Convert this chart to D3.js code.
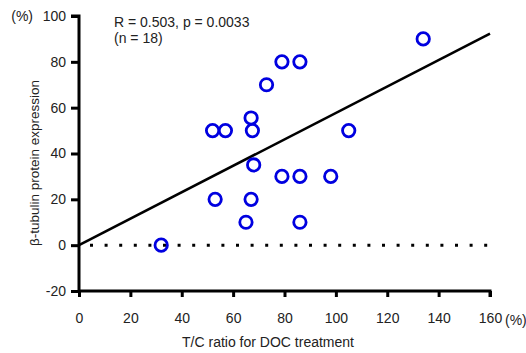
<!DOCTYPE html>
<html>
<head>
<meta charset="utf-8">
<script src="https://cdn.jsdelivr.net/npm/d3@7"></script>
<style>
  body { margin: 0; background: #fff; }
  text { font-family: "Liberation Sans", Arial, sans-serif; fill: #222; }
</style>
</head>
<body>
<div id="chart"></div>
<script>
// T/C ratio (%) and beta-tubulin expression (%) per case
const tcRatio = [32, 53, 67, 65, 86, 68, 79, 86, 98, 52, 57, 67, 67.5, 105, 73, 79, 86, 134];
const tubulin = [0, 20, 20, 10, 10, 35, 30, 30, 30, 50, 50, 55.5, 50, 50, 70, 80, 80, 90];

// regression line end points
const fitX = [0, 160];
const fitY = [0, 92.3];

const xTicks = [0, 20, 40, 60, 80, 100, 120, 140, 160];
const yTicks = [-20, 0, 20, 40, 60, 80, 100];

const width = 526;
const height = 353;

const x = d3.scaleLinear().domain([0, 160]).range([79, 490]);
const y = d3.scaleLinear().domain([-20, 100]).range([291, 16]);

const svg = d3.select("#chart")
  .append("svg")
  .attr("width", width)
  .attr("height", height);

// dotted zero line
svg.append("line")
  .attr("x1", x(0))
  .attr("x2", x(160))
  .attr("y1", y(0))
  .attr("y2", y(0))
  .attr("stroke", "#000")
  .attr("stroke-width", 3)
  .attr("stroke-dasharray", "3 11.6")
  .attr("stroke-dashoffset", -11);

// regression line
svg.append("line")
  .attr("x1", x(fitX[0]))
  .attr("y1", y(fitY[0]))
  .attr("x2", x(fitX[1]))
  .attr("y2", y(fitY[1]))
  .attr("stroke", "#000")
  .attr("stroke-width", 2.6);

// axes
const xAxis = svg.append("g")
  .attr("transform", `translate(0, ${y(-20)})`)
  .call(d3.axisBottom(x).tickValues(xTicks).tickSize(6).tickPadding(16).tickFormat(d => String(d)));

const yAxis = svg.append("g")
  .attr("transform", `translate(${x(0)}, 0)`)
  .call(d3.axisLeft(y).tickValues(yTicks).tickSize(8).tickPadding(5).tickFormat(d => String(d)));

[xAxis, yAxis].forEach(g => {
  g.select(".domain").attr("stroke", "#000").attr("stroke-width", 3);
  g.selectAll(".tick line").attr("stroke", "#000").attr("stroke-width", 3);
  g.selectAll(".tick text").style("font-size", "14px").attr("fill", "#222");
});
yAxis.select(".domain").attr("d", `M-8,${y(100)}H0V${y(-20)}`);
xAxis.select(".domain").attr("d", `M${x(0)},0H${x(160)}V6`);

// unit labels
svg.append("text")
  .attr("x", 33)
  .attr("y", y(100) + 5)
  .attr("text-anchor", "end")
  .style("font-size", "14px")
  .text("(%)");

svg.append("text")
  .attr("x", 505)
  .attr("y", y(-20) + 34)
  .style("font-size", "14px")
  .text("(%)");

// axis titles
svg.append("text")
  .attr("x", 268)
  .attr("y", 347)
  .attr("text-anchor", "middle")
  .style("font-size", "14px")
  .text("T/C ratio for DOC treatment");

svg.append("text")
  .attr("transform", `translate(39, ${163}) rotate(-90)`)
  .attr("text-anchor", "middle")
  .style("font-size", "13.5px")
  .text("β-tubulin protein expression");

// stats annotation
svg.append("text")
  .attr("x", 114)
  .attr("y", 27)
  .style("font-size", "14px")
  .text("R = 0.503, p = 0.0033");

svg.append("text")
  .attr("x", 114)
  .attr("y", 43)
  .style("font-size", "14px")
  .text("(n = 18)");

// data points
svg.selectAll("circle")
  .data(tcRatio)
  .enter()
  .append("circle")
  .attr("cx", d => x(d))
  .attr("cy", (d, i) => y(tubulin[i]))
  .attr("r", 6.2)
  .attr("fill", "none")
  .attr("stroke", "#0000e0")
  .attr("stroke-width", 2.8);
</script>
</body>
</html>
